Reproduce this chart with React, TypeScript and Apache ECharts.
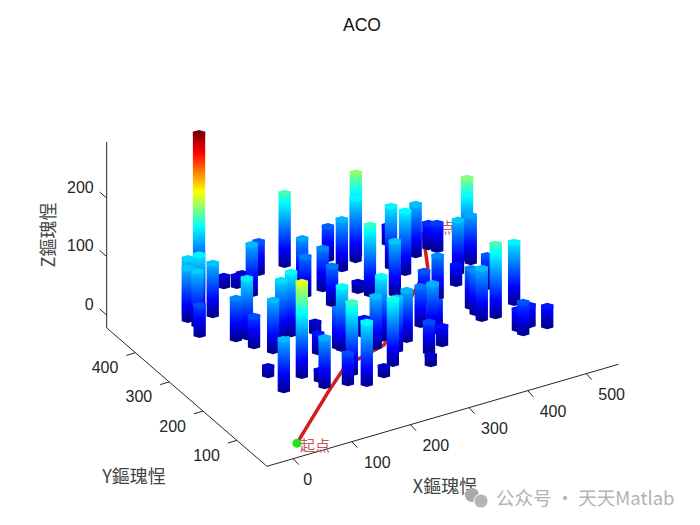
import React, { useEffect, useRef } from "react";
import * as echarts from "echarts";

const title = "ACO";
const xTicks = [0, 100, 200, 300, 400, 500];
const yTicks = [100, 200, 300, 400];
const zTicks = [0, 100, 200];
const xLim = [-45, 555];
const yLim = [11, 485];
const zLim = [-22, 296];
const colorMax = 265;

const barX = [112,62,73,52,57,91,45,148,165,179,102,85,98,172,212,115,146,163,115,73,71,239,251,257,260,270,321,324,363,355,312,197,171,129,132,204,206,183,163,186,255,252,271,249,275,302,221,323,355,399,390,421,439,467,474,405,380,342,347,355,341,313,297,448,468,499,499,433,430,429,483,451,494,460,461,481,502];
const barY = [484,430,416,413,393,407,366,473,464,473,325,328,297,432,481,270,300,300,185,212,162,390,420,482,347,392,465,429,455,442,361,288,234,142,161,232,224,155,132,116,243,204,221,148,181,199,126,344,326,372,398,461,410,421,407,286,283,227,200,202,162,152,119,306,335,362,351,236,217,197,275,194,214,144,130,146,130];
const barH = [265,93,103,88,91,88,50,16,16,12,100,69,50,84,53,86,96,105,159,14,86,65,77,122,64,69,55,84,139,105,14,16,31,82,16,65,106,120,50,105,28,86,106,110,88,84,14,117,89,105,103,29,86,40,45,70,52,65,82,48,30,50,14,31,88,137,79,65,72,86,53,122,103,33,52,33,33];

const pathX = [0, 109, 159, 239, 409, 447];
const pathY = [0, 95, 132, 157, 322, 403];
const pathZ = [10, 20, 30, 30, 30, 40];

const startLabel = "起点";
const endLabel = "终点";
const xName = "X鏂瑰悜";
const yName = "Y鏂瑰悜";
const zName = "Z鏂瑰悜";
const watermark = "公众号 · 天天Matlab";

const R = 10.5;
const project = (x: number, y: number, z: number): [number, number] => [
  297 + 0.586 * x - 0.338 * y,
  449 - 0.17 * x - 0.292 * y - 0.585 * z,
];

const jetKnots: [number, number[]][] = [
  [0, [0, 0, 150]],
  [0.1, [0, 0, 255]],
  [0.4, [0, 255, 255]],
  [0.625, [255, 255, 0]],
  [0.875, [255, 0, 0]],
  [1, [128, 0, 0]],
];
const jet = (t: number) => {
  const v = Math.max(0, Math.min(1, t));
  for (let i = 1; i < jetKnots.length; i++) {
    const [a, ca] = jetKnots[i - 1];
    const [b, cb] = jetKnots[i];
    if (v <= b) {
      const f = (v - a) / (b - a);
      const c = ca.map((n, k) => Math.round(n + (cb[k] - n) * f));
      return `rgb(${c[0]},${c[1]},${c[2]})`;
    }
  }
  return "rgb(128,0,0)";
};

const ring = (x: number, y: number, z: number, deg: number): [number, number] => {
  const t = (deg * Math.PI) / 180;
  return project(x + R * Math.cos(t), y + R * Math.sin(t), z);
};

const barsData = barX
  .map((x, i) => [x, barY[i], barH[i]])
  .sort((p, q) => project(p[0], p[1], 0)[1] - project(q[0], q[1], 0)[1]);

const axisColor = "#262626";
const tickFont = '16px "Liberation Sans", Arial, sans-serif';
const cjkFont = '"Noto Sans CJK SC", "Liberation Sans", sans-serif';

function renderBar(_: any, api: any) {
  const x = api.value(0), y = api.value(1), h = api.value(2);
  const pt = (d: number, z: number) => api.coord(ring(x, y, z, d));
  const body = [pt(120, h), pt(180, 0), pt(240, 0), pt(300, 0), pt(360, h)];
  const topY = pt(120, h)[1];
  const botY = pt(240, 0)[1];
  const span = botY - topY;
  const base = api.coord(project(x, y, 0))[1];
  const scale = 0.585;
  const off = (z: number) => Math.max(0, Math.min(1, (base - z * scale - topY) / span));
  const stops: { offset: number; color: string }[] = [{ offset: 0, color: jet(h / colorMax) }];
  const knots = [0.875, 0.625, 0.4, 0.1].filter((k) => k * colorMax < h);
  knots.forEach((k) => stops.push({ offset: off(k * colorMax), color: jet(k) }));
  stops.push({ offset: off(0), color: jet(0) });
  stops.push({ offset: 1, color: jet(0) });
  const fill = new echarts.graphic.LinearGradient(0, 0, 0, 1, stops);
  const top = [0, 60, 120, 180, 240, 300].map((d) => pt(d, h));
  return {
    type: "group",
    children: [
      { type: "polygon", shape: { points: body }, style: { fill } },
      { type: "polygon", shape: { points: top }, style: { fill: jet(h / colorMax) } },
    ],
  };
}

function renderAxes(_: any, api: any) {
  const c = (x: number, y: number, z: number) => api.coord(project(x, y, z));
  const seg = (a: number[], b: number[]) => ({
    type: "line",
    shape: { x1: a[0], y1: a[1], x2: b[0], y2: b[1] },
    style: { stroke: axisColor, lineWidth: 1 },
  });
  const label = (text: string, p: number[], dx: number, dy: number, align: string) => ({
    type: "text",
    style: { text, x: p[0] + dx, y: p[1] + dy, align, verticalAlign: "middle", font: tickFont, fill: "#262626" },
  });
  const [x0, x1] = xLim, [y0, y1] = yLim, [z0, z1] = zLim;
  const kids: any[] = [
    seg(c(x0, y0, z0), c(x1, y0, z0)),
    seg(c(x0, y0, z0), c(x0, y1, z0)),
    seg(c(x0, y1, z0), c(x0, y1, z1)),
  ];
  xTicks.forEach((t) => {
    const p = c(t, y0, z0);
    kids.push(seg(p, [p[0] + 5.5, p[1] + 6]));
    kids.push(label(String(t), p, t === 0 ? 10 : 12, 21, "left"));
  });
  yTicks.forEach((t) => {
    const p = c(x0, t, z0);
    kids.push(seg(p, [p[0] - 9, p[1] + 2.7]));
    kids.push(label(String(t), p, -17, 15, "right"));
  });
  zTicks.forEach((t) => {
    const p = c(x0, y1, t);
    kids.push(seg(p, [p[0] - 7, p[1] - 6]));
    kids.push(label(String(t), p, -13, -11, "right"));
  });
  return { type: "group", children: kids };
}

function renderPath(_: any, api: any) {
  const points = pathX.map((x, i) => api.coord(project(x, pathY[i], pathZ[i])));
  const end = points[points.length - 1];
  return {
    type: "group",
    children: [
      { type: "polyline", shape: { points }, style: { stroke: "#cf1f1f", lineWidth: 3.5, fill: "none" } },
      {
        type: "text",
        style: { text: endLabel, x: end[0] + 2, y: end[1] - 5, verticalAlign: "middle", font: `15px ${cjkFont}`, fill: "#c05a5a" },
      },
    ],
  };
}

function renderStart(_: any, api: any) {
  const p = api.coord(project(pathX[0], pathY[0], pathZ[0]));
  return {
    type: "group",
    children: [
      { type: "circle", shape: { cx: p[0], cy: p[1], r: 4.5 }, style: { fill: "#22e322" } },
      {
        type: "text",
        style: { text: startLabel, x: p[0] + 3, y: p[1] + 1, verticalAlign: "middle", font: `15px ${cjkFont}`, fill: "#c05a5a" },
      },
    ],
  };
}

export default function App() {
  const ref = useRef<HTMLDivElement>(null);
  useEffect(() => {
    const chart = echarts.init(ref.current!, undefined, { renderer: "svg" });
    chart.setOption({
      animation: false,
      backgroundColor: "#ffffff",
      title: {
        text: title,
        left: 338,
        top: 11,
        textStyle: { fontFamily: '"Liberation Sans", Arial, sans-serif', fontWeight: "normal", fontSize: 17.5, color: "#111" },
      },
      grid: { left: 0, right: 0, top: 0, bottom: 0 },
      xAxis: { type: "value", min: 0, max: 700, show: false },
      yAxis: { type: "value", min: 0, max: 525, inverse: true, show: false },
      series: [
        { type: "custom", z: 1, silent: true, clip: false, data: [[0, 0]], renderItem: renderAxes },
        { type: "custom", z: 2, silent: true, clip: false, data: [[0, 0]], renderItem: renderPath },
        { type: "custom", z: 3, silent: true, clip: false, data: barsData, renderItem: renderBar },
        { type: "custom", z: 4, silent: true, clip: false, data: [[0, 0]], renderItem: renderStart },
      ],
      graphic: [
        { type: "text", x: 445, y: 485, style: { text: xName, align: "center", verticalAlign: "middle", font: `18px ${cjkFont}`, fill: "#444" } },
        { type: "text", x: 134, y: 475, style: { text: yName, align: "center", verticalAlign: "middle", font: `18px ${cjkFont}`, fill: "#444" } },
        { type: "text", x: 47, y: 235, rotation: Math.PI / 2, style: { text: zName, align: "center", verticalAlign: "middle", font: `18px ${cjkFont}`, fill: "#444" } },
        { type: "circle", shape: { cx: 472, cy: 495, r: 7 }, style: { fill: "#a9a9a9" } },
        { type: "circle", shape: { cx: 481, cy: 501, r: 7 }, style: { fill: "#b5b5b5", stroke: "#fff", lineWidth: 1 } },
        { type: "text", x: 496, y: 497, style: { text: watermark, align: "left", verticalAlign: "middle", font: `18.5px ${cjkFont}`, fill: "#b2b2b2" } },
      ],
    });
    return () => chart.dispose();
  }, []);
  return <div ref={ref} style={{ position: "absolute", left: 0, top: 0, width: 700, height: 525 }} />;
}
